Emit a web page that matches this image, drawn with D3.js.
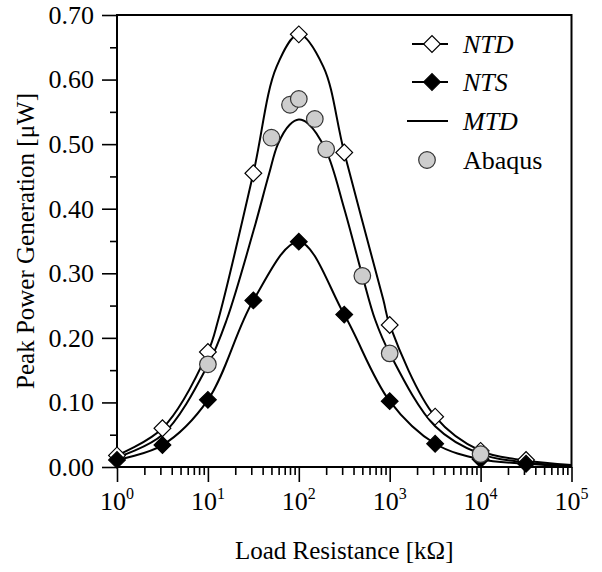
<!DOCTYPE html>
<html>
<head>
<meta charset="utf-8">
<script src="https://cdn.jsdelivr.net/npm/d3@7"></script>
<style>
  body { margin: 0; background: #fff; }
  text { font-family: "Liberation Serif", "Times New Roman", serif; fill: #000; }
</style>
</head>
<body>
<svg id="chart"></svg>
<script>
// Markers (load resistance in kOhm, power in uW)
var ntResistance = [1, 3.162, 10, 31.62, 100, 316.2, 1000, 3162, 10000, 31623];
var ntdPower = [0.018, 0.060, 0.178, 0.455, 0.670, 0.487, 0.220, 0.078, 0.025, 0.011];
var ntsPower = [0.011, 0.034, 0.104, 0.258, 0.349, 0.236, 0.102, 0.036, 0.012, 0.005];
var abaqusResistance = [10, 50, 80, 100, 150, 200, 500, 1000, 10000];
var abaqusPower = [0.159, 0.510, 0.561, 0.570, 0.539, 0.492, 0.296, 0.176, 0.020];

// Curves
var ntdCurveR = [1, 3.162, 10, 13, 31.62, 57, 100, 186, 316.2, 851, 1000, 3162, 10000, 31623, 100000];
var ntdCurveP = [0.018, 0.060, 0.178, 0.228, 0.455, 0.620, 0.670, 0.620, 0.487, 0.259, 0.220, 0.078, 0.025, 0.010, 0.003];
var ntsCurveR = [1, 3.162, 10, 31.62, 100, 316.2, 1000, 3162, 10000, 31623, 100000];
var ntsCurveP = [0.011, 0.034, 0.104, 0.258, 0.349, 0.236, 0.102, 0.036, 0.012, 0.005, 0.001];
var mtdCurveR = [1, 3.162, 10, 16.1, 31.62, 47.1, 58.9, 79.4, 100, 125.9, 199.5, 316.2, 501.2, 691.8, 1000, 3162, 10000, 31623, 100000];
var mtdCurveP = [0.015, 0.050, 0.158, 0.228, 0.365, 0.454, 0.500, 0.530, 0.538, 0.532, 0.490, 0.400, 0.296, 0.228, 0.176, 0.063, 0.020, 0.007, 0.002];

// Axis ticks
var yMajor = [0, 0.1, 0.2, 0.3, 0.4, 0.5, 0.6, 0.7];
var yMinor = [0.05, 0.15, 0.25, 0.35, 0.45, 0.55, 0.65];
var xMajor = [1, 10, 100, 1000, 10000, 100000];
var xExponents = ["0", "1", "2", "3", "4", "5"];

var legendItems = ["NTD", "NTS", "MTD", "Abaqus"];

var screen = {width: 602, height: 572};
var plot = {left: 117, right: 571.5, top: 15, bottom: 467};

var svg = d3.select("#chart")
    .attr("width", screen.width)
    .attr("height", screen.height);

var xScale = d3.scaleLog()
    .domain([1, 100000])
    .range([plot.left, plot.right]);
var yScale = d3.scaleLinear()
    .domain([0, 0.7])
    .range([plot.bottom, plot.top]);

// minor ticks on the log axis: 2..9 of each decade
var xMinor = [];
xMajor.slice(0, -1).forEach(function(d) {
    for (var k = 2; k <= 9; k++) xMinor.push(d * k);
});

// y axis
var yAxis = svg.append("g")
    .attr("transform", "translate(" + plot.left + ",0)")
    .call(d3.axisLeft(yScale).tickValues(yMajor).tickSize(15)
        .tickPadding(8).tickFormat(d3.format(".2f")));
svg.append("g")
    .attr("transform", "translate(" + plot.left + ",0)")
    .call(d3.axisLeft(yScale).tickValues(yMinor).tickSize(7).tickFormat(""));

// x axis
var xAxis = svg.append("g")
    .attr("transform", "translate(0," + plot.bottom + ")")
    .call(d3.axisBottom(xScale).tickValues(xMajor).tickSize(15).tickFormat(""));
svg.append("g")
    .attr("transform", "translate(0," + plot.bottom + ")")
    .call(d3.axisBottom(xScale).tickValues(xMinor).tickSize(8).tickFormat(""));

svg.selectAll(".domain").remove();
svg.selectAll(".tick line").attr("stroke", "#000").attr("stroke-width", 1.6);
yAxis.selectAll(".tick text")
    .style("font-size", "26px")
    .style("font-family", "'Liberation Serif', serif");

// x tick labels with exponents
var xLabels = svg.append("g");
xMajor.forEach(function(d, i) {
    var t = xLabels.append("text")
        .attr("x", xScale(d))
        .attr("y", 510)
        .attr("text-anchor", "middle")
        .style("font-size", "26px");
    t.append("tspan").text("10");
    t.append("tspan")
        .attr("dy", -11)
        .style("font-size", "16px")
        .text(xExponents[i]);
});

// frame
svg.append("rect")
    .attr("x", plot.left)
    .attr("y", plot.top)
    .attr("width", plot.right - plot.left)
    .attr("height", plot.bottom - plot.top)
    .attr("fill", "none")
    .attr("stroke", "#000")
    .attr("stroke-width", 2);

// axis titles
svg.append("text")
    .attr("x", (plot.left + plot.right) / 2)
    .attr("y", 559)
    .attr("text-anchor", "middle")
    .style("font-size", "25px")
    .text("Load Resistance [k\u03A9]");

svg.append("g")
    .attr("transform", "translate(34," + ((plot.top + plot.bottom) / 2) + ")")
    .append("text")
    .attr("transform", "rotate(-90)")
    .attr("text-anchor", "middle")
    .style("font-size", "25px")
    .text("Peak Power Generation [\u03BCW]");

// curves
var line = d3.line()
    .x(function(d) { return xScale(d[0]); })
    .y(function(d) { return yScale(d[1]); })
    .curve(d3.curveCatmullRom.alpha(0.5));

var curves = [
    d3.zip(ntdCurveR, ntdCurveP),
    d3.zip(mtdCurveR, mtdCurveP),
    d3.zip(ntsCurveR, ntsCurveP)
];
svg.append("g").selectAll("path")
    .data(curves)
    .enter()
    .append("path")
    .attr("d", line)
    .attr("fill", "none")
    .attr("stroke", "#000")
    .attr("stroke-width", 2);

// markers
var diamond = d3.symbol().type(d3.symbolSquare).size(140);

var drawDiamonds = function(resist, power, fill) {
    svg.append("g").selectAll("path")
        .data(d3.zip(resist, power))
        .enter()
        .append("path")
        .attr("d", diamond)
        .attr("transform", function(d) {
            return "translate(" + xScale(d[0]) + "," + yScale(d[1]) + ") rotate(45)";
        })
        .attr("fill", fill)
        .attr("stroke", "#000")
        .attr("stroke-width", 1.2);
};
drawDiamonds(ntResistance, ntdPower, "#fff");
drawDiamonds(ntResistance, ntsPower, "#000");

svg.append("g").selectAll("circle")
    .data(d3.zip(abaqusResistance, abaqusPower))
    .enter()
    .append("circle")
    .attr("cx", function(d) { return xScale(d[0]); })
    .attr("cy", function(d) { return yScale(d[1]); })
    .attr("r", 8.3)
    .attr("fill", "#cdcdcd")
    .attr("stroke", "#333")
    .attr("stroke-width", 1.2);

// legend
var legend = svg.append("g");
var rowY = [44, 82, 121, 160];
legendItems.forEach(function(name, i) {
    var y = rowY[i];
    if (i < 3) {
        legend.append("line")
            .attr("x1", i == 2 ? 407 : 412)
            .attr("x2", i == 2 ? 448 : 448)
            .attr("y1", y).attr("y2", y)
            .attr("stroke", "#000")
            .attr("stroke-width", 2);
    }
    if (i < 2) {
        legend.append("path")
            .attr("d", diamond)
            .attr("transform", "translate(432," + y + ") rotate(45)")
            .attr("fill", i == 0 ? "#fff" : "#000")
            .attr("stroke", "#000")
            .attr("stroke-width", 1.2);
    }
    if (i == 3) {
        legend.append("circle")
            .attr("cx", 427).attr("cy", y).attr("r", 8.3)
            .attr("fill", "#cdcdcd")
            .attr("stroke", "#333")
            .attr("stroke-width", 1.2);
    }
    legend.append("text")
        .attr("x", 463)
        .attr("y", y + 9)
        .style("font-size", "26px")
        .style("font-style", i < 3 ? "italic" : "normal")
        .text(name);
});
</script>
</body>
</html>
